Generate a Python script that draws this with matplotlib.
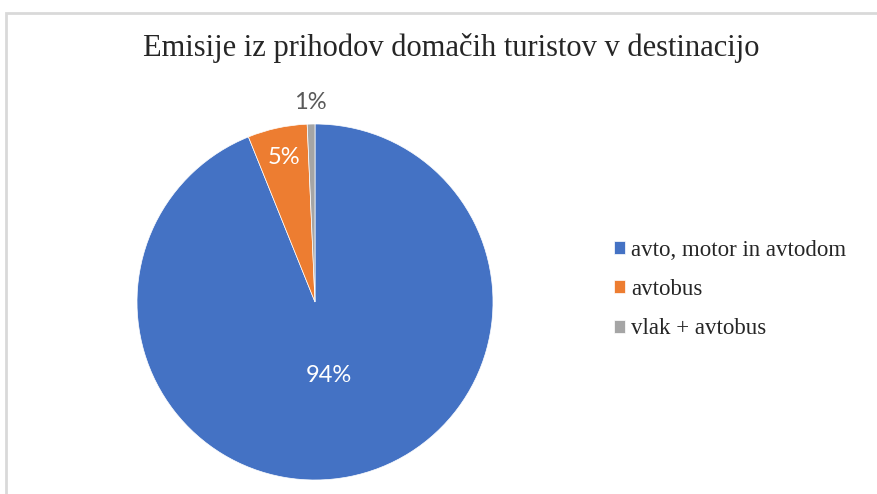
import numpy as np
import matplotlib.pyplot as plt
from matplotlib.patches import Rectangle

# podatki
kategorije = ['avto, motor in avtodom', 'avtobus', 'vlak + avtobus']
deleži = [93.9, 5.4, 0.7]
barve = ['#4472C4', '#ED7D31', '#A5A5A5']
naslov = 'Emisije iz prihodov domačih turistov v destinacijo'

W, H = 878, 494
fig = plt.figure(figsize=(W / 100, H / 100), dpi=100)

# okvir grafa (svetlo siv)
fig.patches.append(Rectangle((6 / W, -0.1), 1.2, 1 - 13 / H + 0.1, transform=fig.transFigure,
                             fill=False, edgecolor='#D9D9D9', linewidth=2))

# os za torto: sredina (315, 302), polmer 178 px
cx, cy, r = 315, 302, 178
ax = fig.add_axes([(cx - r) / W, (H - cy - r) / H, 2 * r / W, 2 * r / H])
wedges, texts, autotexts = ax.pie(deleži, colors=barve, startangle=90, counterclock=False,
                                  autopct='%1.0f%%', wedgeprops=dict(edgecolor='white', linewidth=0.5))
ax.set_xlim(-1, 1)
ax.set_ylim(-1, 1)
ax.set_aspect('equal')
ax.axis('off')

# postavitev oznak kot v Excelu
razdalje = [0.42, 0.83, 1.12]
barve_oznak = ['white', 'white', '#595959']
for w, t, d, c in zip(wedges, autotexts, razdalje, barve_oznak):
    kot = np.deg2rad((w.theta1 + w.theta2) / 2)
    t.set_position((d * np.cos(kot), d * np.sin(kot)))
    t.set_color(c)
    t.set_fontsize(17)
    t.set_family('Lato')

fig.text(451 / W, 1 - 48 / H, naslov, ha='center', va='center', fontsize=22,
         family='Liberation Serif', color='#262626')

leg = fig.legend(wedges, kategorije, loc='upper left', bbox_to_anchor=(593 / W, 1 - 219 / H),
                 frameon=False, handlelength=0.5, handleheight=0.5, handletextpad=0.25,
                 labelspacing=0.8, prop={'family': 'Liberation Serif', 'size': 16.5})
for t in leg.get_texts():
    t.set_color('#262626')

fig.savefig('out.png', dpi=100)
